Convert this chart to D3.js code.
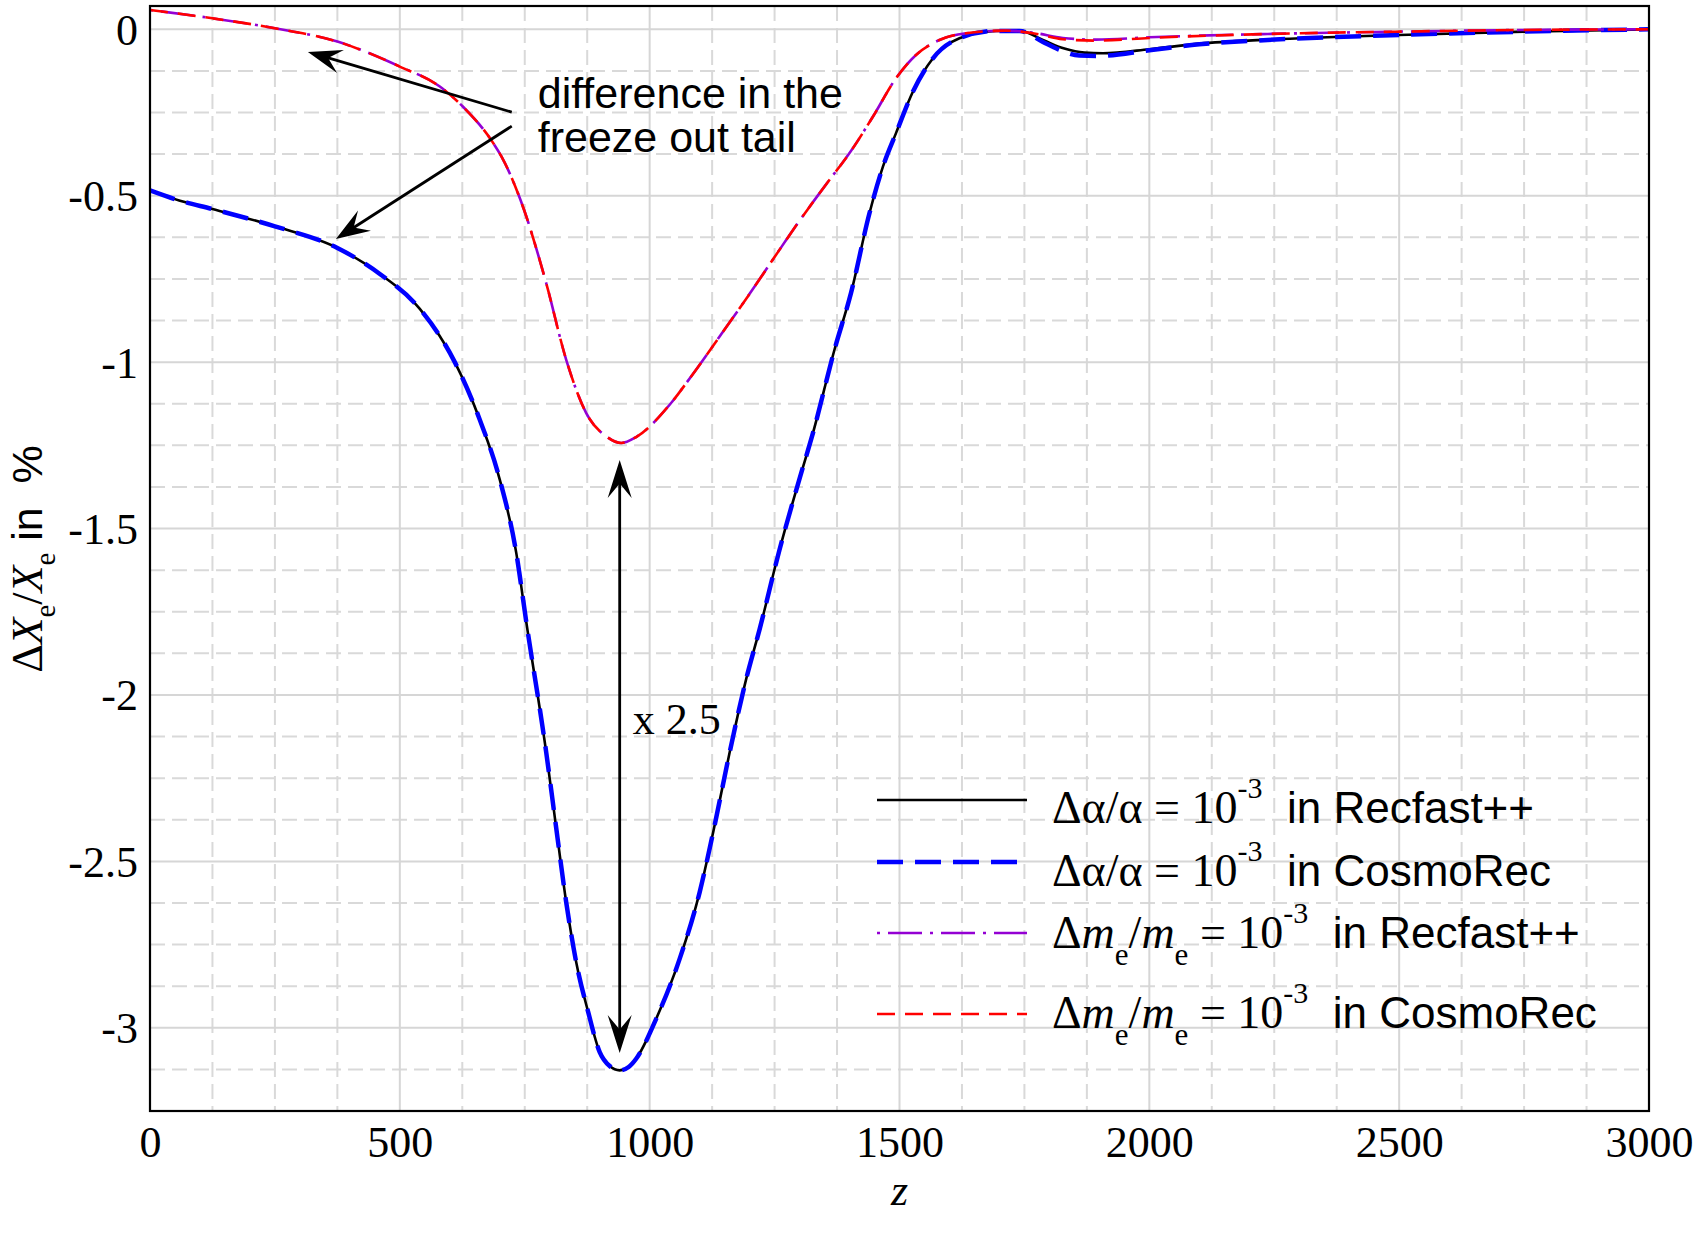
<!DOCTYPE html>
<html><head><meta charset="utf-8">
<script src="https://cdn.jsdelivr.net/npm/d3@7"></script>
<style>
html,body{margin:0;padding:0;background:#fff;}
svg{display:block;}
</style></head><body>
<svg id="chart" width="1700" height="1250"></svg>
<script>
// ---------------- data ----------------
const xTicks = [0, 500, 1000, 1500, 2000, 2500, 3000];
const xTickLabels = ["0", "500", "1000", "1500", "2000", "2500", "3000"];
const yTicks = [0, -0.5, -1, -1.5, -2, -2.5, -3];
const yTickLabels = ["0", "-0.5", "-1", "-1.5", "-2", "-2.5", "-3"];

// Δα/α = 1e-3 in Recfast++ (black)
const zAlphaRecfast = [0,60,125,250,375,460,540,610,660,700,733,753,793,813,833,853,877,900,920,940,958,973,1013,1060,1100,1127,1160,1193,1220,1260,1300,1327,1370,1403,1440,1467,1493,1527,1567,1620,1693,1740,1787,1830,1870,1907,2000,2100,2237,2500,2750,3000];
const vAlphaRecfast = [-0.484,-0.515,-0.540,-0.592,-0.657,-0.735,-0.840,-1.000,-1.173,-1.353,-1.573,-1.780,-2.173,-2.400,-2.623,-2.803,-2.953,-3.073,-3.115,-3.128,-3.118,-3.093,-2.973,-2.793,-2.593,-2.413,-2.173,-1.953,-1.803,-1.563,-1.350,-1.212,-0.962,-0.792,-0.552,-0.412,-0.312,-0.187,-0.087,-0.027,-0.005,-0.004,-0.032,-0.058,-0.070,-0.072,-0.060,-0.043,-0.031,-0.017,-0.007,0.0];

// Δα/α = 1e-3 in CosmoRec (blue dashed)
const zAlphaCosmoRec = [0,60,125,250,375,460,540,610,660,700,733,753,793,813,833,853,877,900,920,940,958,973,1013,1060,1100,1127,1160,1193,1220,1260,1300,1327,1370,1403,1440,1467,1493,1527,1567,1620,1693,1740,1787,1813,1860,1900,2000,2100,2237,2500,2750,3000];
const vAlphaCosmoRec = [-0.484,-0.515,-0.540,-0.592,-0.657,-0.735,-0.840,-1.000,-1.173,-1.353,-1.573,-1.780,-2.173,-2.400,-2.623,-2.803,-2.953,-3.073,-3.115,-3.128,-3.118,-3.093,-2.973,-2.793,-2.593,-2.413,-2.173,-1.953,-1.803,-1.563,-1.350,-1.212,-0.962,-0.792,-0.552,-0.412,-0.312,-0.187,-0.087,-0.027,-0.005,-0.005,-0.038,-0.057,-0.079,-0.080,-0.063,-0.045,-0.032,-0.017,-0.007,0.0];

// Δm_e/m_e = 1e-3 in Recfast++ (purple dash-dot)
const zMeRecfast = [0,125,250,375,500,580,626,687,703,748,793,833,873,913,943,973,1040,1083,1140,1210,1260,1300,1360,1400,1447,1493,1533,1580,1633,1713,1767,1827,1893,2000,2237,2500,2750,3000];
const vMeRecfast = [0.058,0.033,0.003,-0.037,-0.112,-0.172,-0.232,-0.342,-0.381,-0.540,-0.763,-0.993,-1.153,-1.223,-1.243,-1.225,-1.128,-1.043,-0.923,-0.773,-0.662,-0.575,-0.452,-0.372,-0.262,-0.147,-0.077,-0.032,-0.012,-0.004,-0.010,-0.026,-0.031,-0.024,-0.014,-0.007,-0.002,0.0];

// Δm_e/m_e = 1e-3 in CosmoRec (red dashed)
const zMeCosmoRec = [0,125,250,375,500,580,626,687,703,748,793,833,873,913,943,973,1040,1083,1140,1210,1260,1300,1360,1400,1447,1493,1533,1580,1633,1713,1767,1827,1893,2000,2237,2500,2750,3000];
const vMeCosmoRec = [0.058,0.033,0.003,-0.037,-0.112,-0.172,-0.232,-0.342,-0.381,-0.540,-0.763,-0.993,-1.153,-1.223,-1.243,-1.225,-1.128,-1.043,-0.923,-0.773,-0.662,-0.575,-0.452,-0.372,-0.262,-0.147,-0.077,-0.032,-0.012,-0.004,-0.012,-0.030,-0.034,-0.026,-0.014,-0.007,-0.002,0.0];

const seriesNames = ["alphaRecfast", "alphaCosmoRec", "meRecfast", "meCosmoRec"];
const seriesCodes = ["Recfast++", "CosmoRec", "Recfast++", "CosmoRec"];

// ---------------- layout ----------------
const W = 1700, H = 1250;
const M = {left: 150, right: 51, top: 6, bottom: 139};
const x = d3.scaleLinear().domain([0, 3000]).range([M.left, W - M.right]);
const y = d3.scaleLinear().domain([-3.25, 0.07]).range([H - M.bottom, M.top]);

const SERIF = "'Liberation Serif','Times New Roman',Times,serif";
const SANS = "'Liberation Sans',Arial,Helvetica,sans-serif";

const svg = d3.select("#chart");
svg.append("rect").attr("width", W).attr("height", H).attr("fill", "#fff");

svg.append("defs").append("clipPath").attr("id", "clip")
  .append("rect").attr("x", M.left).attr("y", M.top)
  .attr("width", W - M.left - M.right).attr("height", H - M.top - M.bottom);

// ---------------- grid ----------------
const grid = svg.append("g");
const xMinor = d3.range(125, 3000, 125).filter(v => v % 500 !== 0);
const xMajor = d3.range(500, 3000, 500);
const yMinor = d3.range(-3.125, 0.07, 0.125).map(v => +v.toFixed(3)).filter(v => Math.abs(v * 2 - Math.round(v * 2)) > 1e-6);
const yMajor = yTicks;

grid.selectAll(".xmin").data(xMinor).join("line")
  .attr("x1", d => x(d)).attr("x2", d => x(d)).attr("y1", y.range()[1]).attr("y2", y.range()[0])
  .attr("stroke", "#d9d9d9").attr("stroke-width", 2).attr("stroke-dasharray", "15,7");
grid.selectAll(".ymin").data(yMinor).join("line")
  .attr("x1", x.range()[0]).attr("x2", x.range()[1]).attr("y1", d => y(d)).attr("y2", d => y(d))
  .attr("stroke", "#d9d9d9").attr("stroke-width", 2).attr("stroke-dasharray", "15,7");
grid.selectAll(".xmaj").data(xMajor).join("line")
  .attr("x1", d => x(d)).attr("x2", d => x(d)).attr("y1", y.range()[1]).attr("y2", y.range()[0])
  .attr("stroke", "#d6d6d6").attr("stroke-width", 2);
grid.selectAll(".ymaj").data(yMajor).join("line")
  .attr("x1", x.range()[0]).attr("x2", x.range()[1]).attr("y1", d => y(d)).attr("y2", d => y(d))
  .attr("stroke", "#d6d6d6").attr("stroke-width", 2);

// ---------------- axes ----------------
const xAxis = d3.axisBottom(x).tickValues(xTicks).tickFormat((d, i) => xTickLabels[i]).tickSize(0).tickPadding(15);
const gx = svg.append("g").attr("transform", `translate(0,${y.range()[0]})`).call(xAxis);
gx.select(".domain").remove();
gx.selectAll("text").attr("font-family", SERIF).attr("font-size", 44).attr("fill", "#000");

const yAxis = d3.axisLeft(y).tickValues(yTicks).tickFormat((d, i) => yTickLabels[i]).tickSize(0).tickPadding(12);
const gy = svg.append("g").attr("transform", `translate(${x.range()[0]},0)`).call(yAxis);
gy.select(".domain").remove();
gy.selectAll("text").attr("font-family", SERIF).attr("font-size", 44).attr("fill", "#000").attr("dy", "0.34em");

// ---------------- curves ----------------
const line = d3.line().x(d => x(d[0])).y(d => y(d[1])).curve(d3.curveMonotoneX);
const zip = (a, b) => a.map((v, i) => [v, b[i]]);
const styles = {
  alphaRecfast:  {data: zip(zAlphaRecfast, vAlphaRecfast),   color: "#000000", width: 2.6, dash: null},
  alphaCosmoRec: {data: zip(zAlphaCosmoRec, vAlphaCosmoRec), color: "#0000ff", width: 4.5, dash: "26,12"},
  meRecfast:     {data: zip(zMeRecfast, vMeRecfast),         color: "#9400d3", width: 2.6, dash: "3,8,34,8"},
  meCosmoRec:    {data: zip(zMeCosmoRec, vMeCosmoRec),       color: "#ff0000", width: 2.6, dash: "18,10"}
};
const gLines = svg.append("g").attr("clip-path", "url(#clip)");
seriesNames.forEach(name => {
  const s = styles[name];
  gLines.append("path").datum(s.data)
    .attr("d", line).attr("fill", "none")
    .attr("stroke", s.color).attr("stroke-width", s.width)
    .attr("stroke-dasharray", s.dash).attr("stroke-linejoin", "round");
});

// frame
svg.append("rect").attr("x", x.range()[0]).attr("y", y.range()[1])
  .attr("width", x.range()[1] - x.range()[0]).attr("height", y.range()[0] - y.range()[1])
  .attr("fill", "none").attr("stroke", "#000").attr("stroke-width", 2.2);

// ---------------- annotations ----------------
function arrowHead(g, x1, y1, x2, y2, L, Wd) {
  const dx = x2 - x1, dy = y2 - y1, len = Math.hypot(dx, dy);
  const ux = dx / len, uy = dy / len, px = -uy, py = ux;
  const bx = x2 - L * ux, by = y2 - L * uy;
  const nx = x2 - 0.62 * L * ux, ny = y2 - 0.62 * L * uy;
  g.append("path")
    .attr("d", `M${x2},${y2} L${bx + Wd * px},${by + Wd * py} L${nx},${ny} L${bx - Wd * px},${by - Wd * py} Z`)
    .attr("fill", "#000");
}
function arrowLine(g, x1, y1, x2, y2, L) {
  const dx = x2 - x1, dy = y2 - y1, len = Math.hypot(dx, dy);
  g.append("line").attr("x1", x1).attr("y1", y1)
    .attr("x2", x2 - dx / len * L * 0.6).attr("y2", y2 - dy / len * L * 0.6)
    .attr("stroke", "#000").attr("stroke-width", 2.8);
}
const ann = svg.append("g");
// freeze-out arrows
const a1 = [x(724), y(-0.249), x(316), y(-0.068)];
const a2 = [x(724), y(-0.291), x(372), y(-0.630)];
[a1, a2].forEach(a => { arrowLine(ann, ...a, 34); arrowHead(ann, ...a, 34, 12); });
ann.append("text").attr("x", x(776)).attr("y", y(-0.235))
  .attr("font-family", SANS).attr("font-size", 43).text("difference in the");
ann.append("text").attr("x", x(776)).attr("y", y(-0.369))
  .attr("font-family", SANS).attr("font-size", 43).text("freeze out tail");
// double arrow x 2.5
const zA = 940, vTop = -1.294, vBot = -3.076;
ann.append("line").attr("x1", x(zA)).attr("x2", x(zA)).attr("y1", y(vTop) + 20).attr("y2", y(vBot) - 20)
  .attr("stroke", "#000").attr("stroke-width", 2.8);
arrowHead(ann, x(zA), y(-2.2), x(zA), y(vTop), 38, 12);
arrowHead(ann, x(zA), y(-2.2), x(zA), y(vBot), 38, 12);
ann.append("text").attr("x", x(zA) + 13).attr("y", y(-2.118))
  .attr("font-family", SERIF).attr("font-size", 44).text("x 2.5");

// ---------------- axis labels ----------------
svg.append("text").attr("x", (x.range()[0] + x.range()[1]) / 2).attr("y", 1205)
  .attr("text-anchor", "middle").attr("font-family", SERIF).attr("font-style", "italic")
  .attr("font-size", 44).text("z");

const yl = svg.append("text").attr("transform", "translate(42,559) rotate(-90)")
  .attr("text-anchor", "middle").attr("font-family", SERIF).attr("font-size", 44);
yl.append("tspan").text("Δ");
yl.append("tspan").attr("font-style", "italic").text("X");
yl.append("tspan").attr("font-size", 29).attr("dy", 13).text("e");
yl.append("tspan").attr("dy", -13).text("/");
yl.append("tspan").attr("font-style", "italic").text("X");
yl.append("tspan").attr("font-size", 29).attr("dy", 13).text("e");
yl.append("tspan").attr("dy", -13).attr("font-family", SANS).attr("font-size", 43).text("\u00A0in\u00A0\u00A0%");

// ---------------- legend ----------------
const legendLineY = [800, 862, 933, 1014];
const legendBase = [823, 886, 948, 1028];
const lg = svg.append("g");
seriesNames.forEach((name, i) => {
  const s = styles[name];
  lg.append("line").attr("x1", 877).attr("x2", 1027).attr("y1", legendLineY[i]).attr("y2", legendLineY[i])
    .attr("stroke", s.color).attr("stroke-width", s.width).attr("stroke-dasharray", s.dash);
  const t = lg.append("text").attr("x", 1052).attr("y", legendBase[i])
    .attr("font-family", SERIF).attr("font-size", 46).attr("fill", "#000");
  if (i < 2) {
    t.append("tspan").text("Δα/α = 10");
  } else {
    t.append("tspan").text("Δ");
    t.append("tspan").attr("font-style", "italic").text("m");
    t.append("tspan").attr("font-size", 31).attr("dy", 17).text("e");
    t.append("tspan").attr("dy", -17).text("/");
    t.append("tspan").attr("font-style", "italic").text("m");
    t.append("tspan").attr("font-size", 31).attr("dy", 17).text("e");
    t.append("tspan").attr("dy", -17).text("\u00A0= 10");
  }
  t.append("tspan").attr("font-size", 30).attr("dy", -25).text("-3");
  t.append("tspan").attr("dy", 25).attr("font-family", SANS).attr("font-size", 44)
    .text("\u00A0\u00A0in " + seriesCodes[i]);
});
</script>
</body></html>
